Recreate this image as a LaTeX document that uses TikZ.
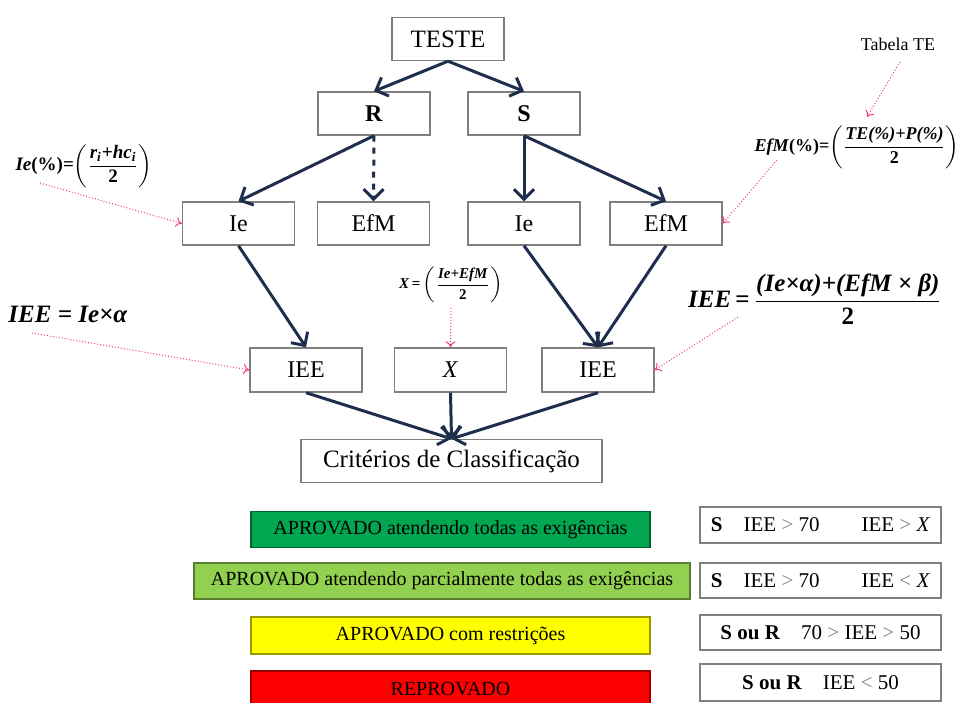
\documentclass[tikz,border=0pt]{standalone}
\usepackage{fontspec}
\setmainfont{Liberation Serif}
\usepackage{amsmath}
\usetikzlibrary{arrows.meta,positioning}
\definecolor{azul}{HTML}{1F2E4D}
\definecolor{borda}{HTML}{7F7F7F}
\definecolor{verde}{HTML}{00A650}
\definecolor{verdec}{HTML}{92D050}
\definecolor{amarelo}{HTML}{FFFF00}
\definecolor{vermelho}{HTML}{FF0000}
\definecolor{rosa}{HTML}{F0406A}
\newcommand{\fm}[1]{\textbf{\textit{#1}}}
\tikzset{
		caixa/.style={rectangle, draw=borda, line width=0.7pt, fill=white,
			minimum width=56pt, minimum height=21.5pt, inner sep=0pt,
			font=\fontsize{12}{14}\selectfont},
		fluxo/.style={-{Straight Barb[length=5pt,width=10pt]}, draw=azul,
			line width=1.5pt},
		nota/.style={-{To[length=3pt,width=5pt]}, draw=rosa, densely dotted,
			line width=0.5pt},
		annot/.style={inner sep=0pt, text centered},
		faixa/.style={rectangle, minimum height=18pt, inner sep=0pt,
			line width=0.7pt, font=\fontsize{10}{12}\selectfont},
		regra/.style={rectangle, draw=borda, line width=0.7pt, fill=white,
			minimum width=120.5pt, minimum height=17.5pt, inner sep=0pt,
			font=\fontsize{10.5}{12}\selectfont},
		}

\begin{document}
\begin{tikzpicture}
				[x=0.5pt, y=-0.5pt]
				\useasboundingbox (0,0) rectangle (963,702);

				% arvore
				\node[caixa, font=\fontsize{12.5}{14}\selectfont] (teste) at (448,39) {TESTE};
				\node[caixa] (r)    at (374,113.5) {\textbf{R}};
				\node[caixa] (s)    at (524,113.5) {\textbf{S}};
				\node[caixa] (ie1)  at (238.5,223.5) {Ie};
				\node[caixa] (efm1) at (373.5,223.5) {EfM};
				\node[caixa] (ie2)  at (524,223.5) {Ie};
				\node[caixa] (efm2) at (666,223.5) {EfM};
				\node[caixa, minimum height=22pt] (iee1) at (306,370) {IEE};
				\node[caixa, minimum height=22pt] (xis)  at (450.5,370) {\textit{X}};
				\node[caixa, minimum height=22pt] (iee2) at (598,370) {IEE};
				\node[caixa, minimum width=150.5pt, font=\fontsize{12.5}{14}\selectfont]
					(crit) at (451.5,461) {Critérios de Classificação};

				\draw[fluxo] (teste.south) -- (r.north);
				\draw[fluxo] (teste.south) -- (s.north);
				\draw[fluxo] (r.south) -- (ie1.north);
				\draw[fluxo, dashed] (r.south) -- (efm1.north);
				\draw[fluxo] (s.south) -- (ie2.north);
				\draw[fluxo] (s.south) -- (efm2.north);
				\draw[fluxo] (ie1.south) -- (iee1.north);
				\draw[fluxo] (ie2.south) -- (iee2.north);
				\draw[fluxo] (efm2.south) -- (iee2.north);
				\draw[fluxo] (iee1.south) -- (crit.north);
				\draw[fluxo] (xis.south) -- (crit.north);
				\draw[fluxo] (iee2.south) -- (crit.north);

				% formulas
				\node[annot, font=\fontsize{9.5}{11}\selectfont] (fie) at (84,166)
					{\fm{Ie}\textbf{(\%)=}$\left(\dfrac{\mbox{\fm{r\textsubscript{i}+hc\textsubscript{i}}}}{\mbox{\textbf{2}}}\right)$};
				\node[annot, font=\fontsize{9}{11}\selectfont] (tabela) at (898,44) {Tabela TE};
				\node[annot, font=\fontsize{9}{11}\selectfont] (fefm) at (857,147)
					{\fm{EfM}\textbf{(\%)=}$\left(\dfrac{\mbox{\fm{TE(\%)+P(\%)}}}{\mbox{\textbf{2}}}\right)$};
				\node[annot, font=\fontsize{7.5}{9}\selectfont] (fx) at (451,285)
					{\fm{X}\textbf{\,=\,}$\left(\dfrac{\mbox{\fm{Ie+EfM}}}{\mbox{\textbf{2}}}\right)$};
				\node[annot, font=\fontsize{12.5}{14}\selectfont] (fiee1) at (68,314) {\fm{IEE = Ie×α}};
				\node[annot, font=\fontsize{12.5}{14}\selectfont] (fiee2) at (815,299)
					{\fm{IEE}\textbf{\,=\,}$\dfrac{\mbox{\fm{(Ie×α)+(EfM × β)}}}{\mbox{\textbf{2}}}$};

				\coordinate (n1) at (40,183);
				\coordinate (n2) at (900,62);
				\coordinate (n2b) at (867,117);
				\coordinate (n3) at (777,160);
				\coordinate (n4) at (451,308);
				\coordinate (n5) at (32,333);
				\coordinate (n6) at (738,317);
				\draw[nota] (n1) -- (ie1.west);
				\draw[nota] (n2) -- (n2b);
				\draw[nota] (n3) -- (efm2.east);
				\draw[nota] (n4) -- (xis.north);
				\draw[nota] (n5) -- (iee1.west);
				\draw[nota] (n6) -- (iee2.east);

				% classificacao
				\node[faixa, fill=verde, draw=verde!60!black, minimum width=199.5pt] (ap1) at (450.5,529.5)
					{APROVADO atendendo todas as exigências};
				\node[faixa, fill=verdec, draw=verdec!60!black, minimum width=248pt] (ap2) at (442,581)
					{APROVADO atendendo parcialmente todas as exigências};
				\node[faixa, fill=amarelo, draw=amarelo!60!black, minimum width=199.5pt, minimum height=18.5pt] (ap3) at (450.5,635.5)
					{APROVADO com restrições};
				\node[faixa, fill=vermelho, draw=vermelho!60!black, minimum width=199.5pt, minimum height=18.5pt] (rep) at (450.5,689.5)
					{REPROVADO};

				\node[regra, minimum height=18pt] (c1) at (820.5,525)
					{\textbf{S}\quad IEE {\color{gray}>} 70\qquad IEE {\color{gray}>} \textit{X}};
				\node[regra] (c2) at (820.5,580.5)
					{\textbf{S}\quad IEE {\color{gray}>} 70\qquad IEE {\color{gray}<} \textit{X}};
				\node[regra] (c3) at (820.5,632.5)
					{\textbf{S ou R}\quad 70 {\color{gray}>} IEE {\color{gray}>} 50};
				\node[regra, minimum height=18.5pt] (c4) at (820.5,682.5)
					{\textbf{S ou R}\quad IEE {\color{gray}<} 50};

			\end{tikzpicture}
\end{document}
